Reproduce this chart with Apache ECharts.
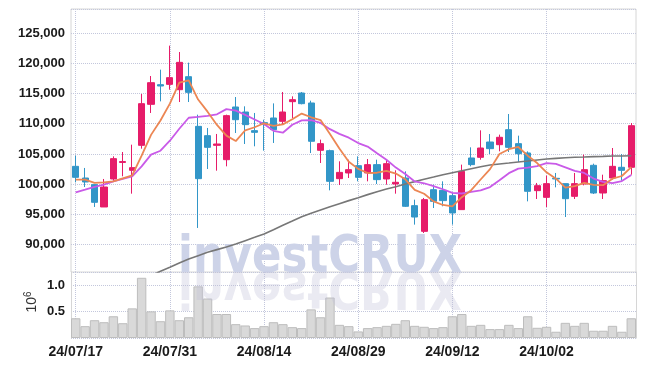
<!DOCTYPE html>
<html>
<head>
<meta charset="utf-8">
<script src="https://cdn.jsdelivr.net/npm/echarts@6/dist/echarts.min.js"></script>
<style>
html,body{margin:0;padding:0;background:#fff;}
#c{width:645px;height:366px;}
</style>
</head>
<body>
<div id="c"></div>
<script>
const dates = ['24/07/17','24/07/18','24/07/19','24/07/22','24/07/23','24/07/24','24/07/25','24/07/26','24/07/29','24/07/30',
'24/07/31','24/08/01','24/08/02','24/08/05','24/08/06','24/08/07','24/08/08','24/08/09','24/08/12','24/08/13',
'24/08/14','24/08/16','24/08/19','24/08/20','24/08/21','24/08/22','24/08/23','24/08/26','24/08/27','24/08/28',
'24/08/29','24/08/30','24/09/02','24/09/03','24/09/04','24/09/05','24/09/06','24/09/09','24/09/10','24/09/11',
'24/09/12','24/09/13','24/09/19','24/09/20','24/09/23','24/09/24','24/09/25','24/09/26','24/09/27','24/09/30',
'24/10/02','24/10/04','24/10/07','24/10/08','24/10/10','24/10/11','24/10/14','24/10/15','24/10/16','24/10/17'];

const open = [102960,101030,99930,96240,100870,103600,102300,106430,113210,116460,
116510,115630,117780,109570,108030,106430,104060,112770,111940,108860,
110180,110950,110400,113650,115080,113430,105610,105550,100920,101860,
103070,101860,103240,100870,100040,101030,96460,92210,99100,98990,
98110,95800,104340,104450,106980,106540,109020,106710,105170,98940,
97830,100980,100100,98000,100040,103130,98550,101030,102800,102800];

const close = [101140,100370,97010,99540,104230,103750,102740,113320,116790,116240,
117620,120150,115190,100920,106100,106650,111340,110670,109850,108580,
109960,109020,111940,113980,113320,107100,106710,100480,101960,102410,
101140,103240,100760,103400,100320,96350,94580,97450,97170,97290,
95250,102130,103240,105990,105880,107760,106100,105050,98830,99760,
100100,100870,97610,100100,102410,98550,100590,102960,102300,109680];

const low = [100310,99540,96240,96240,100480,101310,98440,105880,111780,113700,
115630,113590,113590,92770,102520,102240,102960,108470,106650,106270,
105550,106820,109850,110950,113210,105160,103510,98990,99870,101030,
100480,100480,100040,99930,98440,96240,93320,91940,96070,96350,
93320,95800,102960,104060,105000,105440,105330,103680,97170,97560,
96240,99490,94580,97560,99820,98390,97560,100760,100590,101580];

const high = [104720,102690,100000,100870,104610,105330,106540,114920,117890,118940,
122910,121860,120100,111500,109300,108310,111500,114420,112880,111780,
110670,113370,115250,114530,115250,113810,107370,105720,103790,104060,
104610,104170,104060,104170,102300,102130,97450,97730,99930,100480,
98550,103240,106100,108910,108300,108200,111610,108030,105440,100210,
101420,101860,100100,101860,104890,103400,101580,105990,105000,110120];

const ma5 = [100760,100760,100210,100320,100460,100980,101450,104720,108160,110540,
113320,116800,117180,114000,112000,109800,108040,107140,108920,109420,
110080,109640,109900,110730,111680,111070,110610,108320,105910,103730,
102540,101850,101900,102190,101770,100810,99080,98420,97170,96570,
96350,97860,99020,100780,102500,105000,105790,106160,104720,103500,
101970,100920,99430,99690,100220,99910,99850,100920,101360,102820];

const ma10 = [98660,99100,99550,99930,100480,100870,101310,102960,104890,105540,
107190,109170,110990,111130,111310,111560,112420,112160,111460,110710,
109960,108840,108520,109830,110550,110590,110130,109110,108320,107700,
106810,106230,105110,104050,102750,101680,100460,100160,99680,99170,
98580,98470,98720,98980,99530,100670,101830,102590,102750,103000,
103480,103360,102800,102210,101860,100940,100390,100180,100530,101520];

const ma60 = [null,null,null,null,null,null,null,null,84900,85600,
86270,86980,87640,88190,88740,89190,89630,90120,90670,91220,
91780,92490,93210,93920,94640,95190,95740,96290,96790,97290,
97780,98280,98770,99210,99600,100040,100430,100810,101190,101580,
101910,102240,102570,102900,103180,103350,103510,103680,103840,104010,
104170,104280,104390,104450,104500,104560,104610,104670,104670,104720];

const volume = [375000,225000,338000,300000,413000,281000,563000,1144000,506000,319000,
525000,338000,394000,981000,750000,456000,456000,263000,238000,188000,
225000,300000,263000,206000,188000,544000,394000,769000,250000,225000,
125000,188000,206000,231000,269000,338000,231000,213000,188000,206000,
413000,456000,231000,250000,169000,169000,250000,188000,413000,194000,
213000,119000,288000,231000,288000,138000,138000,231000,119000,375000];

const watermark = 'investCRUX';
const volumeUnit = '10';
const volumeExp = '6';

const FONT = "'Liberation Sans Narrow','Liberation Sans',sans-serif";
const UP = '#e61c69', DOWN = '#3296c8';
const gridLine = {type: 'dotted', color: '#c3c7dc', width: 1};
const BORDER = '#d6d6d6';
const WM_FONT = 'bold 52px "DejaVu Sans"';

const candleData = open.map((o, i) => [o, close[i], low[i], high[i]]);

const chart = echarts.init(document.getElementById('c'), null, {renderer: 'canvas'});

chart.setOption({
  animation: false,
  backgroundColor: '#fff',
  grid: [
    {left: 71, right: 9, top: 9, height: 263, show: true, borderColor: BORDER, borderWidth: 1},
    {left: 71, right: 9, top: 272, height: 66, show: false}
  ],
  graphic: [
    {type: 'text', z: 1, x: 178, y: 284, scaleX: 0.835, originX: 0, originY: -12,
     style: {text: watermark, font: WM_FONT, fill: '#cdd3e8', align: 'left', verticalAlign: 'bottom'}},
    {type: 'text', z: 10, x: 178, y: 284, scaleX: 0.835, scaleY: -1, originX: 0, originY: -12,
     style: {text: watermark, font: WM_FONT, fill: 'rgba(190,190,215,0.33)', align: 'left', verticalAlign: 'bottom'}},
    {type: 'text', z: 5, x: 32, y: 302, rotation: Math.PI / 2,
     style: {text: volumeUnit + '{sup|' + volumeExp + '}', align: 'center', verticalAlign: 'middle',
       font: "14px 'Liberation Sans'", fill: '#333',
       rich: {sup: {fontFamily: FONT, fontSize: 10, fill: '#333', verticalAlign: 'top', padding: [0, 0, 8, 0]}}}}
  ],
  xAxis: [
    {type: 'category', gridIndex: 0, data: dates, boundaryGap: true,
     axisLine: {show: false}, axisTick: {show: false}, axisLabel: {show: false},
     splitLine: {show: true, interval: 9, alignWithLabel: true, lineStyle: gridLine}},
    {type: 'category', gridIndex: 1, data: dates, boundaryGap: true,
     axisLine: {show: false}, axisTick: {show: false},
     axisLabel: {show: true, interval: 9, fontFamily: FONT, fontSize: 14, fontWeight: 'bold', color: '#1a1a1a', margin: 7},
     splitLine: {show: true, interval: 9, alignWithLabel: true, lineStyle: gridLine}}
  ],
  yAxis: [
    {type: 'value', gridIndex: 0, min: 85490, max: 128970, splitNumber: 8, scale: true,
     axisLine: {show: false}, axisTick: {show: false},
     axisLabel: {fontFamily: FONT, fontSize: 13, fontWeight: 'bold', color: '#1a1a1a', margin: 6, showMinLabel: false, showMaxLabel: false,
       formatter: v => v.toLocaleString('en-US')},
     splitLine: {show: true, lineStyle: gridLine}},
    {type: 'value', gridIndex: 1, min: 0, max: 1254000, splitNumber: 3,
     axisLine: {show: true, lineStyle: {color: BORDER}}, axisTick: {show: false},
     axisLabel: {fontFamily: FONT, fontSize: 13, fontWeight: 'bold', color: '#1a1a1a', margin: 6, showMinLabel: false, showMaxLabel: false,
       formatter: v => (v / 1e6).toFixed(1)},
     splitLine: {show: true, lineStyle: gridLine}},
    {type: 'value', gridIndex: 1, min: 0, max: 1254000, position: 'right',
     axisLine: {show: true, lineStyle: {color: BORDER}}, axisTick: {show: false},
     axisLabel: {show: false}, splitLine: {show: false}}
  ],
  series: [
    {type: 'candlestick', xAxisIndex: 0, yAxisIndex: 0, data: candleData, barWidth: '70%', z: 3,
     itemStyle: {color: UP, color0: DOWN, borderColor: UP, borderColor0: DOWN, borderWidth: 1}},
    {type: 'line', xAxisIndex: 0, yAxisIndex: 0, data: ma60, symbol: 'none', z: 4,
     lineStyle: {color: '#777777', width: 1.6}},
    {type: 'line', xAxisIndex: 0, yAxisIndex: 0, data: ma10, symbol: 'none', z: 4,
     lineStyle: {color: '#c95ae8', width: 1.8}},
    {type: 'line', xAxisIndex: 0, yAxisIndex: 0, data: ma5, symbol: 'none', z: 5,
     lineStyle: {color: '#ec8653', width: 1.8}},
    {type: 'bar', xAxisIndex: 1, yAxisIndex: 1, data: volume, barWidth: '100%', z: 3,
     itemStyle: {color: '#d9d9d9', borderColor: '#bdbdbd', borderWidth: 1}}
  ]
});
</script>
</body>
</html>
